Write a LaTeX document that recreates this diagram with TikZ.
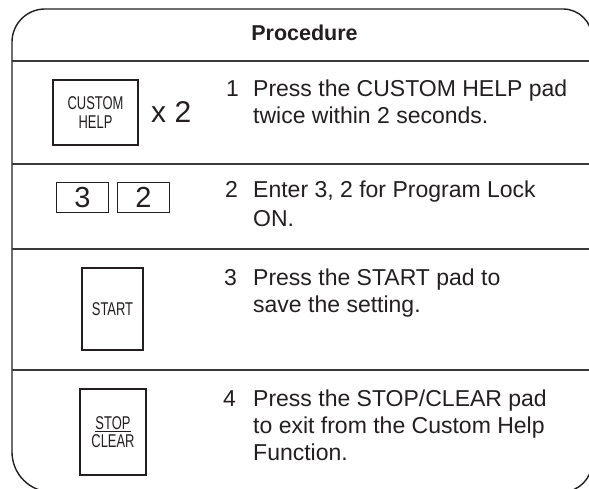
\documentclass[tikz,border=0pt]{standalone}
\usepackage{fontspec}
\setmainfont{Liberation Sans}
\newcommand\procbody{\fontsize{23}{27}\selectfont}
\newcommand\prochead{\fontsize{21.5}{25}\selectfont\bfseries}
\newcommand\padfont{\fontsize{18.5}{20}\selectfont}
\newcommand\padsquash[1]{\scalebox{0.7}[1]{#1}}
\definecolor{ink}{HTML}{231F20}
\definecolor{rule}{HTML}{3A3A3A}
\tikzset{
  frameline/.style={draw=ink, line width=1.4pt},
  divider/.style={draw=rule, line width=1.4pt},
  bigpad/.style={draw=ink, line width=2.6pt, inner sep=0pt, text=ink,
    font=\padfont, align=center},
  digitpad/.style={draw=ink, line width=1pt, inner sep=0pt, text=ink,
    minimum width=52pt, minimum height=30pt, font=\fontsize{29}{30}\selectfont},
  steptext/.style={anchor=base west, inner sep=0pt, text=ink, font=\procbody},
}
\begin{document}
\begin{tikzpicture}[x=1pt, y=-1pt]
\useasboundingbox (0,0) rectangle (589,489);
\clip (0,0) rectangle (589,489);

% outer frame with rounded corners (y grows downwards here)
\path[frameline] (45,9) -- (563,9) arc[start angle=-90, end angle=0, radius=29]
  -- (592,462) arc[start angle=0, end angle=90, radius=30]
  -- (52,492) arc[start angle=90, end angle=180, radius=40]
  -- (12,42) arc[start angle=180, end angle=270, radius=33] -- cycle;

% row dividers
\foreach \yy in {61,164,249,370} \path[divider] (12,\yy) -- (592,\yy);

% heading
\node[anchor=base, inner sep=0pt, text=ink, font=\prochead] (head) at (304.5,40.5) {Procedure};

% step 1
\node[bigpad, minimum width=85pt, minimum height=65pt] (custom) at (95.5,112.5)
  {\padsquash{CUSTOM}\\[-1pt]\padsquash{HELP}};
\node[anchor=base west, inner sep=0pt, text=ink, font=\fontsize{30}{32}\selectfont] (twice) at (151,123) {x 2};
\node[steptext] (n1) at (226,97) {1};
\node[steptext] (s1a) at (253,97) {Press the CUSTOM HELP pad};
\node[steptext] (s1b) at (253,124) {twice within 2 seconds.};

% step 2
\node[digitpad] (k3) at (82.5,197.5) {3};
\node[digitpad] (k2) at (143.5,197.5) {2};
\node[steptext] (n2) at (225,198) {2};
\node[steptext] (s2a) at (253,198) {Enter 3, 2 for Program Lock};
\node[steptext] (s2b) at (253,226) {ON.};

% step 3
\node[bigpad, minimum width=61pt, minimum height=82pt] (start) at (112.5,309)
  {\padsquash{START}};
\node[steptext] (n3) at (224,285) {3};
\node[steptext] (s3a) at (253,285) {Press the START pad to};
\node[steptext] (s3b) at (253,312) {save the setting.};

% step 4
\node[bigpad, minimum width=66pt, minimum height=86pt] (stop) at (113,432)
  {\padsquash{\underline{STOP}}\\[-2pt]\padsquash{CLEAR}};
\node[steptext] (n4) at (223,406) {4};
\node[steptext] (s4a) at (253,406) {Press the STOP/CLEAR pad};
\node[steptext] (s4b) at (253,433) {to exit from the Custom Help};
\node[steptext] (s4c) at (253,460) {Function.};
\end{tikzpicture}
\end{document}
